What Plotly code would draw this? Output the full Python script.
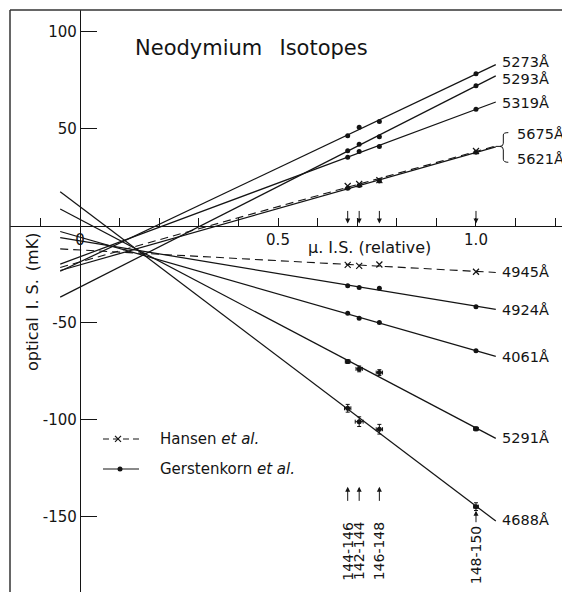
import numpy as np
import plotly.graph_objects as go

# ---------------- data ----------------
mu_is = [0.676, 0.705, 0.756, 1.0]          # muonic isotope shift (relative)
pair_labels = ["144-146", "142-144", "146-148", "148-150"]

# Gerstenkorn et al. (solid lines, dots)
g_names = ["5273Å", "5293Å", "5319Å", "5675Å", "4924Å", "4061Å", "5291Å", "4688Å"]
g_5273 = [46.5, 50.9, 53.8, 78.4]
g_5293 = [38.7, 42.1, 46.0, 72.3]
g_5319 = [35.4, 38.3, 40.9, 60.2]
g_5675 = [19.4, 20.9, 23.2, 38.0]
g_4924 = [-30.9, -31.8, -32.1, -41.6]
g_4061 = [-45.0, -47.6, -49.8, -64.3]
g_5291 = [-69.9, -73.7, -75.6, -104.6]
g_4688 = [-94.0, -100.9, -104.8, -144.7]
g_values = [g_5273, g_5293, g_5319, g_5675, g_4924, g_4061, g_5291, g_4688]

# error bars (only 5291 and 4688)
err_x_5291 = [0.006, 0.008, 0.008, 0.006]
err_y_5291 = [1.0, 1.5, 1.5, 1.0]
err_x_4688 = [0.008, 0.010, 0.008, 0.006]
err_y_4688 = [2.0, 2.5, 2.5, 2.0]

# Hansen et al. (dashed lines, crosses)
h_names = ["5621Å", "4945Å"]
h_5621 = [20.6, 21.6, 23.6, 38.6]
h_4945 = [-20.1, -20.6, -19.9, -23.6]
h_values = [h_5621, h_4945]

# label heights (mK) for the wavelength tags
label_y = {"5273Å": 84.3, "5293Å": 75.9, "5319Å": 63.6, "5675Å": 47.3, "5621Å": 34.4,
           "4945Å": -23.6, "4924Å": -43.3, "4061Å": -67.4, "5291Å": -109.4, "4688Å": -151.5}

y_ticks = [100, 50, -50, -100, -150]
x_ticks = [-0.1, 0, 0.1, 0.2, 0.3, 0.4, 0.5, 0.6, 0.7, 0.8, 0.9, 1.0, 1.1, 1.2]
x_ticktext = ["", "0", "", "", "", "", "0.5", "", "", "", "", "1.0", "", ""]

# ---------------- style ----------------
FONT = "DejaVu Sans"
INK = "#141414"
X_RANGE = [-0.1768, 1.2374]
Y_RANGE = [-188.7, 111.3]
LINE_X = [-0.05, 1.05]

fig = go.Figure()

def fit_line(vals):
    k, b = np.polyfit(mu_is, vals, 1)
    xs = np.array(LINE_X)
    return xs, k * xs + b

for name, vals in zip(g_names, g_values):
    xs, ys = fit_line(vals)
    fig.add_trace(go.Scatter(x=xs, y=ys, mode="lines", line=dict(color=INK, width=1.25),
                             showlegend=False, hoverinfo="skip"))
for name, vals in zip(h_names, h_values):
    xs, ys = fit_line(vals)
    fig.add_trace(go.Scatter(x=xs, y=ys, mode="lines",
                             line=dict(color=INK, width=1.1, dash="8px,5px"),
                             showlegend=False, hoverinfo="skip"))

# points
for name, vals in zip(g_names, g_values):
    ex = ey = None
    if name == "5291Å":
        ex = dict(type="data", array=err_x_5291, color=INK, thickness=1, width=2)
        ey = dict(type="data", array=err_y_5291, color=INK, thickness=1, width=2)
    if name == "4688Å":
        ex = dict(type="data", array=err_x_4688, color=INK, thickness=1, width=2)
        ey = dict(type="data", array=err_y_4688, color=INK, thickness=1, width=2)
    fig.add_trace(go.Scatter(x=mu_is, y=vals, mode="markers",
                             marker=dict(symbol="circle", size=5, color=INK),
                             error_x=ex, error_y=ey, showlegend=False, name=name))
for name, vals in zip(h_names, h_values):
    fig.add_trace(go.Scatter(x=mu_is, y=vals, mode="markers",
                             marker=dict(symbol="x-thin", size=6, line=dict(color=INK, width=1.2)),
                             showlegend=False, name=name))

ann = []
LBL_FONT = dict(family=FONT, size=14.5, color=INK)
# wavelength labels
for name in ["5273Å", "5293Å", "5319Å", "4945Å", "4924Å", "4061Å", "5291Å", "4688Å"]:
    ann.append(dict(x=1.061, y=label_y[name], xref="x", yref="y", text=name, showarrow=False,
                    xanchor="left", yanchor="middle", font=LBL_FONT))
for name in ["5675Å", "5621Å"]:
    ann.append(dict(x=1.098, y=label_y[name], xref="x", yref="y", text=name, showarrow=False,
                    xanchor="left", yanchor="middle", font=LBL_FONT))

# down arrows above the axis
for xv in mu_is:
    ann.append(dict(x=xv, y=1.2, ax=xv, ay=8.5, xref="x", yref="y", axref="x", ayref="y",
                    text="", showarrow=True, arrowhead=2, arrowsize=1, arrowwidth=1, arrowcolor=INK))
# up arrows + pair labels at bottom
for xv, lab in zip(mu_is[:3], pair_labels[:3]):
    ann.append(dict(x=xv, y=-134.5, ax=xv, ay=-142.5, xref="x", yref="y", axref="x", ayref="y",
                    text="", showarrow=True, arrowhead=2, arrowsize=1, arrowwidth=1, arrowcolor=INK))
    ann.append(dict(x=xv, y=-151.3, xref="x", yref="y", text=lab, textangle=-90, showarrow=False,
                    xanchor="center", yanchor="top", font=dict(family=FONT, size=14, color=INK)))
ann.append(dict(x=mu_is[3], y=-146.8, ax=mu_is[3], ay=-153.5, xref="x", yref="y", axref="x", ayref="y",
                text="", showarrow=True, arrowhead=2, arrowsize=1, arrowwidth=1, arrowcolor=INK))
ann.append(dict(x=mu_is[3], y=-153.0, xref="x", yref="y", text=pair_labels[3], textangle=-90,
                showarrow=False, xanchor="center", yanchor="top", font=dict(family=FONT, size=14, color=INK)))

# title and axis titles
ann.append(dict(x=0.434, y=91.7, xref="x", yref="y", text="Neodymium\u2002 Isotopes", showarrow=False,
                font=dict(family=FONT, size=21, color=INK)))
ann.append(dict(x=0.732, y=-11.3, xref="x", yref="y", text="\u03bc. I.S. (relative)", showarrow=False,
                font=dict(family=FONT, size=16, color=INK)))
ann.append(dict(x=-0.1187, y=-39.2, xref="x", yref="y", text="optical\u2002I. S.\u2002(mK)", textangle=-90,
                showarrow=False, font=dict(family=FONT, size=16, color=INK)))

# manual legend
leg_h_y, leg_g_y = -109.8, -125.3
fig.add_trace(go.Scatter(x=[0.058, 0.159], y=[leg_h_y, leg_h_y], mode="lines",
                         line=dict(color=INK, width=1.1, dash="6px,4px"), showlegend=False, hoverinfo="skip"))
fig.add_trace(go.Scatter(x=[0.096], y=[leg_h_y], mode="markers",
                         marker=dict(symbol="x-thin", size=6, line=dict(color=INK, width=1.2)),
                         showlegend=False, hoverinfo="skip"))
fig.add_trace(go.Scatter(x=[0.058, 0.149], y=[leg_g_y, leg_g_y], mode="lines",
                         line=dict(color=INK, width=1.1), showlegend=False, hoverinfo="skip"))
fig.add_trace(go.Scatter(x=[0.101], y=[leg_g_y], mode="markers",
                         marker=dict(symbol="circle", size=5, color=INK),
                         showlegend=False, hoverinfo="skip"))
ann.append(dict(x=0.197, y=leg_h_y, xref="x", yref="y", text="Hansen <i>et al.</i>", showarrow=False,
                xanchor="left", font=dict(family=FONT, size=15, color=INK)))
ann.append(dict(x=0.197, y=leg_g_y, xref="x", yref="y", text="Gerstenkorn <i>et al.</i>", showarrow=False,
                xanchor="left", font=dict(family=FONT, size=15, color=INK)))

shapes = [
    dict(type="line", xref="paper", yref="paper", x0=0, x1=0, y0=0, y1=1, layer="above",
         line=dict(color="#333", width=1.5)),
    dict(type="line", xref="paper", yref="paper", x0=0, x1=1, y0=1, y1=1, layer="above",
         line=dict(color="#333", width=1.5)),
    # bracket joining 5675 / 5621
    dict(type="path", xref="x", yref="y",
         path="M 1.05,41.0 L 1.0606,41.0 Q 1.069,41.0 1.069,42.6 L 1.069,46.9 Q 1.069,48.1 1.0816,48.1 "
              "M 1.0606,41.0 Q 1.069,41.0 1.069,39.2 L 1.069,34.4 Q 1.069,32.8 1.0816,32.8",
         line=dict(color=INK, width=1)),
]

x_pos = (0 - Y_RANGE[0]) / (Y_RANGE[1] - Y_RANGE[0])
y_pos = (0 - X_RANGE[0]) / (X_RANGE[1] - X_RANGE[0])

# page body adds an 8px offset, so the figure is 8px smaller with 2px margins
fig.update_layout(
    width=562, height=584,
    margin=dict(l=2, r=0, t=2, b=0),
    paper_bgcolor="white", plot_bgcolor="white",
    showlegend=False,
    annotations=ann, shapes=shapes,
    xaxis=dict(range=X_RANGE, anchor="free", position=x_pos, showline=True, linecolor=INK, linewidth=1.3,
               ticks="inside", ticklen=8, tickwidth=1.2, tickcolor=INK,
               tickvals=x_ticks, ticktext=x_ticktext, showgrid=False, zeroline=False,
               tickfont=dict(family=FONT, size=15, color=INK), automargin=False),
    yaxis=dict(range=Y_RANGE, anchor="free", position=y_pos, showline=True, linecolor=INK, linewidth=1.3,
               ticks="inside", ticklen=16, tickwidth=1.2, tickcolor=INK,
               tickvals=y_ticks, ticktext=[str(v) for v in y_ticks], showgrid=False, zeroline=False,
               tickfont=dict(family=FONT, size=15, color=INK), automargin=False),
)

fig.write_html("out.html")
